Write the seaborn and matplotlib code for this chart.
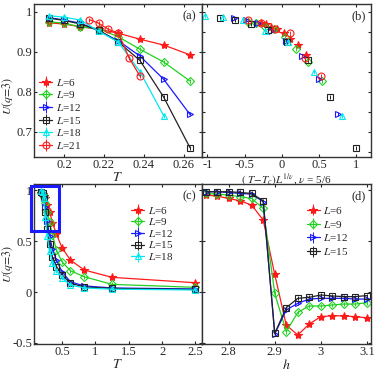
import matplotlib
matplotlib.use("Agg")
import matplotlib.pyplot as plt
from matplotlib.legend_handler import HandlerTuple
from matplotlib.patches import Rectangle
import seaborn as sns

# ---- panel (a) / (b): U vs T near the transition ----
T_a = [0.1923, 0.2, 0.2083, 0.2174, 0.2273, 0.2381, 0.25, 0.2632]
T_a18 = [0.1923, 0.2, 0.2083, 0.2174, 0.2273, 0.2381, 0.25]
T_a21 = [0.2128, 0.2174, 0.2222, 0.2273, 0.2326, 0.2381]
u6_a = [0.973, 0.970, 0.963, 0.957, 0.947, 0.932, 0.9175, 0.893]
u9_a = [0.976, 0.972, 0.963, 0.958, 0.938, 0.907, 0.875, 0.8275]
u12_a = [0.986, 0.980, 0.972, 0.953, 0.928, 0.890, 0.832, 0.744]
u15_a = [0.985, 0.979, 0.970, 0.955, 0.925, 0.879, 0.7875, 0.661]
u18_a = [0.991, 0.987, 0.980, 0.952, 0.925, 0.851, 0.741]
u21_a = [0.981, 0.972, 0.957, 0.947, 0.886, 0.840]
Tc = 0.2246
nu = 5 / 6

# ---- panel (c): U vs T over the full range ----
T_c = [0.192, 0.208, 0.227, 0.25, 0.278, 0.313, 0.357, 0.417, 0.5, 0.625, 0.833, 1.25, 2.5]
u6_c = [0.973, 0.963, 0.947, 0.918, 0.855, 0.79, 0.68, 0.566, 0.435, 0.314, 0.216, 0.144, 0.091]
u9_c = [0.976, 0.963, 0.936, 0.875, 0.79, 0.69, 0.56, 0.41, 0.297, 0.209, 0.15, 0.075, 0.046]
u12_c = [0.986, 0.972, 0.928, 0.832, 0.70, 0.55, 0.42, 0.31, 0.20, 0.10, 0.06, 0.04, 0.03]
u15_c = [0.985, 0.970, 0.925, 0.788, 0.62, 0.47, 0.34, 0.25, 0.17, 0.085, 0.05, 0.035, 0.025]
u18_c = [0.991, 0.980, 0.925, 0.741, 0.55, 0.40, 0.28, 0.21, 0.14, 0.069, 0.04, 0.028, 0.02]

# ---- panel (d): U vs h ----
h_d = [2.75, 2.775, 2.8, 2.825, 2.85, 2.875, 2.9, 2.925, 2.95, 2.975, 3.0, 3.025, 3.05, 3.075, 3.1]
u6_d = [0.951, 0.941, 0.918, 0.895, 0.853, 0.706, 0.173, -0.324, -0.422, -0.314, -0.242, -0.232, -0.235, -0.242, -0.252]
u9_d = [0.967, 0.961, 0.951, 0.935, 0.918, 0.82, -0.013, -0.389, -0.20, -0.137, -0.137, -0.127, -0.118, -0.118, -0.105]
u12_d = [0.984, 0.984, 0.977, 0.967, 0.961, 0.886, -0.412, -0.176, -0.111, -0.069, -0.062, -0.062, -0.062, -0.069, -0.069]
u15_d = [0.984, 0.984, 0.984, 0.977, 0.967, 0.895, -0.405, -0.154, -0.062, -0.052, -0.029, -0.039, -0.045, -0.045, -0.035]

sizes = [6, 9, 12, 15, 18, 21]

sns.set_style("ticks")
plt.rcParams["font.family"] = ["Liberation Serif", "DejaVu Serif"]
plt.rcParams["mathtext.fontset"] = "stix"
plt.rcParams["font.size"] = 9
plt.rcParams["xtick.direction"] = "in"
plt.rcParams["ytick.direction"] = "in"
plt.rcParams["xtick.top"] = True
plt.rcParams["ytick.right"] = True
plt.rcParams["xtick.major.size"] = 2.5
plt.rcParams["ytick.major.size"] = 2.5
plt.rcParams["axes.linewidth"] = 1.0
plt.rcParams["axes.edgecolor"] = "#333333"

# colour, marker, marker face, marker size per system size
style = {
    6: ("#ff1a1a", "*", "fill", 6),
    9: ("#22d022", "D", "none", 4),
    12: ("#1a1aff", ">", "none", 4.5),
    15: ("#222222", "s", "none", 4),
    18: ("#00e8f0", "^", "none", 4.5),
    21: ("#ff1a1a", "o", "none", 5),
}


def draw(ax, x, y, L, err, line=True):
    c, m, fc, ms = style[L]
    sns.lineplot(x=x, y=y, ax=ax, color=c, marker=m, markersize=ms,
                 mfc=c if fc == "fill" else "none", mec=c, mew=0.8,
                 linewidth=0.9 if line else 0, linestyle="-" if line else "none",
                 legend=False, sort=False)
    ln = ax.lines[-1]
    eb = ax.errorbar(x, y, yerr=err, fmt="none", ecolor=c, elinewidth=0.7, capsize=0)
    return (ln, eb)


def add_legend(ax, handles, Ls, loc, anchor, spacing):
    ax.legend(handles, [f"$L$={L}" for L in Ls], loc=loc, bbox_to_anchor=anchor,
              frameon=False, fontsize=8, handlelength=1.2, handletextpad=0.3,
              labelspacing=spacing, borderaxespad=0, borderpad=0,
              handler_map={tuple: HandlerTuple(ndivide=1)})


fig = plt.figure(figsize=(3.74, 3.74), dpi=100)
W = 374.0
ax_a = fig.add_axes([34 / W, 1 - 157 / W, 167.5 / W, 153 / W])
ax_b = fig.add_axes([201.5 / W, 1 - 157 / W, 169.5 / W, 153 / W])
ax_c = fig.add_axes([34 / W, 1 - 344 / W, 167.5 / W, 160 / W])
ax_d = fig.add_axes([201.5 / W, 1 - 344 / W, 169.5 / W, 160 / W])

# (a)
data_a = [(6, T_a, u6_a), (9, T_a, u9_a), (12, T_a, u12_a),
          (15, T_a, u15_a), (18, T_a18, u18_a), (21, T_a21, u21_a)]
hs = [draw(ax_a, x, y, L, 0.005) for L, x, y in data_a]
ax_a.set_xlim(0.185, 0.269)
ax_a.set_ylim(0.6375, 1.02)
ax_a.set_xticks([0.2, 0.22, 0.24, 0.26], ["0.2", "0.22", "0.24", "0.26"])
ax_a.set_yticks([0.7, 0.8, 0.9, 1.0], ["0.7", "0.8", "0.9", "1"])
ax_a.set_xlabel("$T$", fontsize=10, labelpad=0)
ax_a.set_ylabel("$U(q\\!=\\!3)$", fontsize=8.5)
ax_a.yaxis.set_label_coords(-0.115, 0.4)
add_legend(ax_a, hs, sizes, "lower left", (0.03, 0.04), 0.15)
ax_a.text(0.97, 0.96, "(a)", transform=ax_a.transAxes, ha="right", va="top", fontsize=9)

# (b) scaling collapse
for L, x, y in data_a:
    xs = [(t - Tc) * L ** (1 / nu) for t in x]
    draw(ax_b, xs, y, L, 0.005, line=False)
ax_b.set_xlim(-1.08, 1.2)
ax_b.set_ylim(0.6375, 1.02)
ax_b.set_xticks([-1, -0.5, 0, 0.5, 1], ["-1", "-0.5", "0", "0.5", "1"])
ax_b.set_yticks([0.65, 0.7, 0.75, 0.8, 0.85, 0.9, 0.95, 1.0], [])
ax_b.set_xlabel("$(\\ T\\!-\\!T_c)L^{1/\\nu}$, $\\nu$ = 5/6", fontsize=8, labelpad=0.5)
ax_b.text(0.97, 0.96, "(b)", transform=ax_b.transAxes, ha="right", va="top", fontsize=9)

# (c)
data_c = [(6, u6_c), (9, u9_c), (12, u12_c), (15, u15_c), (18, u18_c)]
hs = [draw(ax_c, T_c, y, L, 0.02) for L, y in data_c]
ax_c.set_xlim(0.08, 2.59)
ax_c.set_ylim(-0.51, 1.06)
ax_c.set_xticks([0.5, 1, 1.5, 2, 2.5], ["0.5", "1", "1.5", "2", "2.5"])
ax_c.set_yticks([-0.5, 0, 0.5, 1], ["-0.5", "0", "0.5", "1"])
ax_c.set_xlabel("$T$", fontsize=10, labelpad=0)
ax_c.set_ylabel("$U(q\\!=\\!3)$", fontsize=8.5)
ax_c.yaxis.set_label_coords(-0.115, 0.5)
add_legend(ax_c, hs, sizes[:5], "upper left", (0.58, 0.87), 0.05)
ax_c.text(0.97, 0.96, "(c)", transform=ax_c.transAxes, ha="right", va="top", fontsize=9)
ax_c.add_patch(Rectangle((0.034, 0.60), 0.42, 0.44, fill=False, edgecolor="#1a1aff",
                         linewidth=2.2, clip_on=False, zorder=10))

# (d)
data_d = [(6, u6_d), (9, u9_d), (12, u12_d), (15, u15_d)]
hs = [draw(ax_d, h_d, y, L, 0.02) for L, y in data_d]
ax_d.set_xlim(2.741, 3.109)
ax_d.set_ylim(-0.51, 1.06)
ax_d.set_xticks([2.8, 2.9, 3.0, 3.1], ["2.8", "2.9", "3", "3.1"])
ax_d.set_yticks([-0.5, 0, 0.5, 1], [])
ax_d.set_xlabel("$h$", fontsize=10, labelpad=0)
add_legend(ax_d, hs, sizes[:4], "upper left", (0.62, 0.87), 0.25)
ax_d.text(0.97, 0.96, "(d)", transform=ax_d.transAxes, ha="right", va="top", fontsize=9)

for ax in (ax_a, ax_b, ax_c, ax_d):
    ax.tick_params(labelsize=9, pad=1.5, width=0.8)

fig.savefig("out.png", dpi=100)
